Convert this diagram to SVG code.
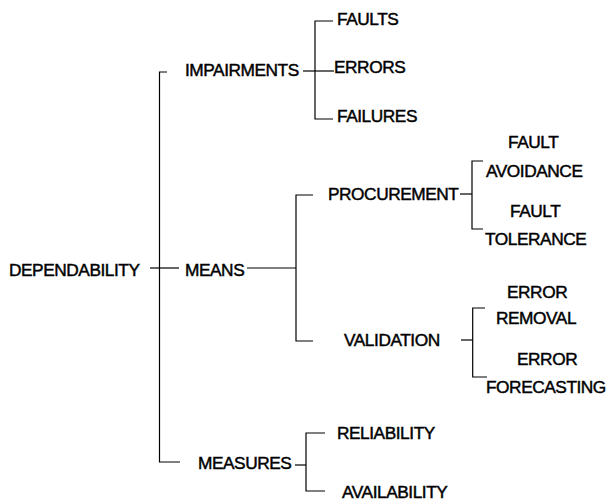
<svg xmlns="http://www.w3.org/2000/svg" width="607" height="501" viewBox="0 0 607 501">
<style>
text{font-family:"Liberation Sans",Arial,Helvetica,sans-serif;font-size:17.3px;letter-spacing:-0.45px;fill:#000;stroke:#000;stroke-width:0.45px}
.c{fill:none;stroke:#000;stroke-width:1.2}
</style>
<rect width="607" height="501" fill="#fff"/>
<g id="connectors" class="c">
<path d="M167,72 H159.5 V462 H180"/>
<path d="M150,268 H179"/>
<path d="M303,71 H334"/>
<path d="M333,21 H315 V119 H333"/>
<path d="M247,268 H296"/>
<path d="M313,195 H296 V341 H313"/>
<path d="M460,194 H472"/>
<path d="M483,161 H472 V229 H483"/>
<path d="M461,340 H472.7"/>
<path d="M485,308 H472.7 V377 H487"/>
<path d="M295,465 H306"/>
<path d="M325,433 H306 V491 H325"/>
</g>
<g id="dependability"><text x="9" y="276">DEPENDABILITY</text></g>
<g id="impairments"><text x="185" y="76">IMPAIRMENTS</text></g>
<g id="means"><text x="185" y="276">MEANS</text></g>
<g id="measures"><text x="198" y="469">MEASURES</text></g>
<g id="faults"><text x="337" y="25">FAULTS</text></g>
<g id="errors"><text x="334" y="72.5">ERRORS</text></g>
<g id="failures"><text x="337" y="121.5">FAILURES</text></g>
<g id="procurement"><text x="328" y="200">PROCUREMENT</text></g>
<g id="validation"><text x="344" y="346">VALIDATION</text></g>
<g id="fault-avoidance"><text x="508" y="148">FAULT</text><text x="486" y="177">AVOIDANCE</text></g>
<g id="fault-tolerance"><text x="510" y="217">FAULT</text><text x="485" y="245">TOLERANCE</text></g>
<g id="error-removal"><text x="507" y="298">ERROR</text><text x="496" y="324">REMOVAL</text></g>
<g id="error-forecasting"><text x="517" y="365">ERROR</text><text x="486" y="393">FORECASTING</text></g>
<g id="reliability"><text x="337" y="439">RELIABILITY</text></g>
<g id="availability"><text x="342" y="498">AVAILABILITY</text></g>
</svg>
